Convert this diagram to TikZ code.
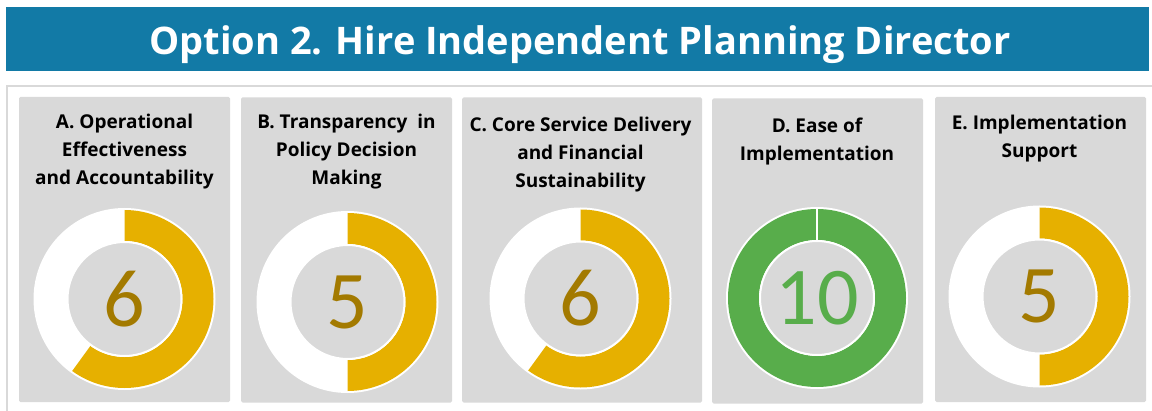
\documentclass[tikz,border=0pt]{standalone}
\usepackage{fontspec}
\usepackage{xcolor}
\usepackage{tikz}
\setmainfont{Open Sans}
\newfontfamily\scorefont{Carlito}

\definecolor{titleblue}{RGB}{18,122,166}
\definecolor{panelgray}{RGB}{217,217,217}
\definecolor{framegray}{RGB}{217,217,217}
\definecolor{ringgold}{RGB}{230,176,0}
\definecolor{scoregold}{RGB}{163,122,0}
\definecolor{ringgreen}{RGB}{88,173,75}

\begin{document}
\begin{tikzpicture}[x=1pt, y=1pt,
    panel/.style={rectangle, fill=panelgray, rounded corners=1.5pt, minimum height=305pt, inner sep=0pt},
    heading/.style={align=center, inner sep=0pt, anchor=north, font=\bfseries\fontsize{19}{28}\selectfont},
    score/.style={inner sep=0pt, font=\scorefont\fontsize{82}{82}\selectfont}]
            \useasboundingbox (0,0) rectangle (1152,410);

            % Title
            \node[rectangle, fill=titleblue, minimum width=1143.5pt, minimum height=64pt, inner sep=0pt] (bar) at (577.25,371) {};
            \node[anchor=base, inner sep=0pt, text=white, font=\bfseries\fontsize{38}{38}\selectfont] (title) at (580,355) {Option 2. Hire Independent Planning Director};

            % Frame
            \draw[framegray, line width=2.5pt] (7,324) rectangle (1160,-6);

            % Panels
            \node[panel, minimum width=211pt] (pa) at (124.5,160.5) {};
            \node[panel, minimum width=211pt] (pb) at (346.5,160) {};
            \node[panel, minimum width=240pt] (pc) at (582,160) {};
            \node[panel, minimum width=211pt] (pd) at (817.5,159) {};
            \node[panel, minimum width=211pt] (pe) at (1040.5,160.5) {};

            % Headings
            \node[heading] (ha) at (124.5,296.5) {A. Operational\\Effectiveness\\and Accountability};
            \node[heading] (hb) at (346.5,296.5) {B. Transparency\ \ in\\Policy Decision\\Making};
            \node[heading] (hc) at (580.5,293.5) {C. Core Service Delivery\\and Financial\\Sustainability};
            \node[heading] (hd) at (817,292.5) {D. Ease of\\Implementation};
            \node[heading] (he) at (1039.5,295.5) {E. Implementation\\Support};

            % Rings
            \foreach \cx/\cy/\stop in {124.5/111/-126, 347.5/108/-90, 580.5/111.5/-126, 1039.5/113.5/-90}{
                \begin{scope}[shift={(\cx,\cy)}]
                    \fill[white] (0,0) circle (91);
                    \fill[ringgold] (90:89) arc[start angle=90, end angle=\stop, radius=89] -- (\stop:58) arc[start angle=\stop, end angle=90, radius=58] -- cycle;
                    \draw[white, line width=2pt, fill=panelgray] (0,0) circle (57);
                \end{scope}
            }
            \begin{scope}[shift={(817,112)}]
                \fill[white] (0,0) circle (91);
                \fill[ringgreen, even odd rule] (0,0) circle (89) (0,0) circle (58);
                \draw[white, line width=2pt, fill=panelgray] (0,0) circle (57);
                \draw[white, line width=1.5pt] (90:57) -- (90:90);
            \end{scope}

            % Scores
            \node[score, text=scoregold] (sa) at (124.5,111) {6};
            \node[score, text=scoregold] (sb) at (347.5,108) {5};
            \node[score, text=scoregold] (sc) at (580.5,111.5) {6};
            \node[score, text=ringgreen] (sd) at (817,112) {10};
            \node[score, text=scoregold] (se) at (1039.5,113.5) {5};
        \end{tikzpicture}
\end{document}
